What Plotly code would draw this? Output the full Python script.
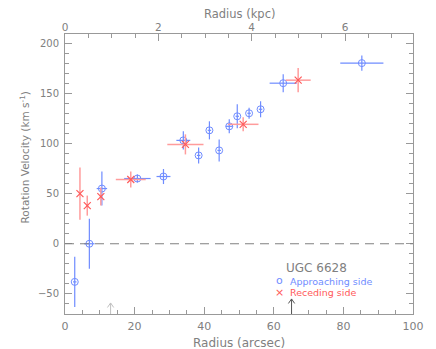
import plotly.graph_objs as go

# approaching side (blue circles): radius, velocity, radius err, velocity err
app_r = [2.8, 7.0, 10.6, 20.8, 28.3, 34.0, 38.4, 41.5, 44.3, 47.2, 49.5, 52.9, 56.2, 62.7, 85.3]
app_v = [-38, 0, 55, 65, 67, 103, 88, 113, 93, 117, 127, 130, 134, 160, 180]
app_re = [0.5, 1.5, 1.5, 3.8, 2.0, 2.0, 0.5, 0.5, 0.5, 1.0, 0.5, 0.5, 0.5, 3.9, 6.2]
app_ve = [25, 25, 17, 4, 7.5, 9, 8, 9, 11, 7, 12, 5.5, 8, 9, 7.5]

# receding side (red crosses)
rec_r = [4.3, 6.4, 10.3, 18.9, 34.6, 51.2, 67.0]
rec_v = [50, 38, 47, 64, 99, 119, 163]
rec_re = [0.3, 0.3, 0.3, 4.3, 5.2, 4.4, 3.6]
rec_ve = [26, 10, 9, 8, 10, 7, 12]

kpc_per_arcsec = 0.07457

# arrows on the bottom axis
arrow_r = [13.1, 65.1]
arrow_tip = [-59, -55]
arrow_col = ["#c0c0c0", "#555555"]

blue = "#6f8cff"
red = "#ff5a5a"
grey = "#808080"
axcol = "#999999"
fam = "DejaVu Sans"

fig = go.Figure()

fig.add_trace(go.Scatter(
    x=app_r, y=app_v, mode="markers", name="Approaching side",
    marker=dict(symbol="circle-open", size=7, color=blue, line=dict(width=1)),
    error_x=dict(type="data", array=app_re, color=blue, thickness=1.2, width=0),
    error_y=dict(type="data", array=app_ve, color=blue, thickness=1.2, width=0),
))
fig.add_trace(go.Scatter(
    x=rec_r, y=rec_v, mode="markers", name="Receding side",
    marker=dict(symbol="x-thin-open", size=7, color=red, line=dict(width=1.2, color=red)),
    error_x=dict(type="data", array=rec_re, color="#ff9c9c", thickness=1.5, width=0),
    error_y=dict(type="data", array=rec_ve, color="#ff9c9c", thickness=1.5, width=0),
))
# invisible trace so the top kpc axis is drawn
fig.add_trace(go.Scatter(x=[0], y=[0], xaxis="x2", mode="markers",
                         marker=dict(opacity=0), showlegend=False, hoverinfo="skip"))

fig.add_hline(y=0, line=dict(color=grey, width=1, dash="9px,6px"))

for r, tip, c in zip(arrow_r, arrow_tip, arrow_col):
    fig.add_shape(type="path", xref="x", yref="y",
                  path=f"M {r},-70 L {r},{tip} M {r-0.9},{tip-4.5} L {r},{tip} L {r+0.9},{tip-4.5}",
                  line=dict(color=c, width=1))

# text in the plot
fig.add_annotation(x=72.4, y=-24, text="UGC 6628", showarrow=False,
                   font=dict(family=fam, size=12, color=grey))
fig.add_annotation(x=61.6, y=-36.5, text="o", showarrow=False,
                   font=dict(family=fam, size=11, color=blue))
fig.add_annotation(x=64.0, y=-37.3, text="Approaching side", showarrow=False, xanchor="left",
                   font=dict(family=fam, size=9.5, color=blue))
fig.add_annotation(x=61.7, y=-48.2, text="×", showarrow=False, xanchor="right",
                   xshift=6, font=dict(family=fam, size=11, color=red))
fig.add_annotation(x=64.0, y=-48.2, text="Receding side", showarrow=False, xanchor="left",
                   font=dict(family=fam, size=9.5, color=red))

# axis titles
fig.add_annotation(xref="paper", yref="paper", x=0.5, y=-0.1036, yanchor="middle",
                   text="Radius (arcsec)", showarrow=False,
                   font=dict(family=fam, size=12, color=grey))
fig.add_annotation(xref="paper", yref="paper", x=0.5, y=1.07, yanchor="middle",
                   text="Radius (kpc)", showarrow=False,
                   font=dict(family=fam, size=11.5, color=grey))
fig.add_annotation(xref="paper", yref="paper", x=-0.1178, y=0.559, xanchor="center",
                   yanchor="middle", textangle=-90,
                   text="Rotation Velocity (km s<sup>-1</sup>)", showarrow=False,
                   font=dict(family=fam, size=10.5, color=grey))

axis_common = dict(
    showgrid=False, zeroline=False, showline=True, linecolor=axcol, linewidth=1,
    ticks="inside", ticklen=7, tickcolor=axcol, automargin=False,
)
minor_common = dict(ticklen=4, ticks="inside", tickcolor=axcol)

# page body keeps an 8px margin, so the figure is 8px smaller and margins shifted
fig.update_layout(
    width=428, height=341,
    margin=dict(l=57, r=23, t=26, b=35),
    plot_bgcolor="white", paper_bgcolor="white",
    showlegend=False,
    xaxis=dict(axis_common, range=[0, 100], dtick=20, minor=dict(minor_common, dtick=5),
               ticklabelstandoff=2,
               tickfont=dict(family=fam, size=11, color=grey)),
    xaxis2=dict(axis_common, range=[0, 100 * kpc_per_arcsec], dtick=2, overlaying="x",
                side="top", anchor="y", minor=dict(minor_common, dtick=0.5),
                ticklabelstandoff=-2,
                tickfont=dict(family=fam, size=10.5, color=grey)),
    yaxis=dict(axis_common, range=[-70, 209], dtick=50, mirror="ticks",
               ticklabelstandoff=3, minor=dict(minor_common, dtick=10),
               tickfont=dict(family=fam, size=10, color=grey)),
)

fig.write_html("out.html")
